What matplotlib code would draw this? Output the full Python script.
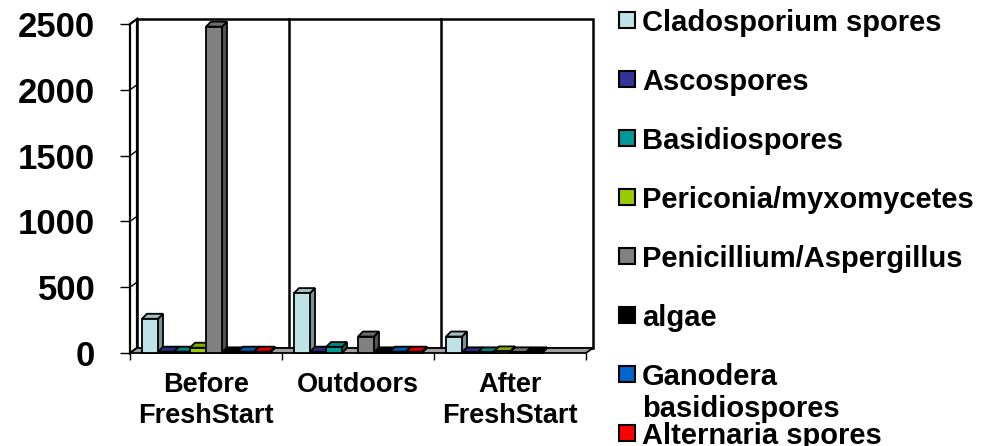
import numpy as np
import matplotlib.pyplot as plt
from matplotlib.patches import Polygon, Rectangle
import matplotlib.colors as mcolors

plt.rcParams['font.family'] = ['Liberation Sans', 'DejaVu Sans']
plt.rcParams['font.weight'] = 'bold'

# data
categories = ['Before\nFreshStart', 'Outdoors', 'After\nFreshStart']
series = ['Cladosporium spores', 'Ascospores', 'Basidiospores', 'Periconia/myxomycetes',
          'Penicillium/Aspergillus', 'algae', 'Ganodera\nbasidiospores', 'Alternaria spores']
colors = ['#BFE2E6', '#333399', '#009999', '#99CC00', '#808080', '#000000', '#0066CC', '#FF0000']

cladosporium = [260, 455, 125]
ascospores = [10, 10, 5]
basidiospores = [10, 45, 5]
periconia = [40, 0, 12]
penicillium = [2480, 125, 5]
algae = [5, 5, 5]
ganodera = [10, 10, 0]
alternaria = [10, 10, 0]
values = [cladosporium, ascospores, basidiospores, periconia,
          penicillium, algae, ganodera, alternaria]

yticks = [0, 500, 1000, 1500, 2000, 2500]

W, H = 989, 446
fig = plt.figure(figsize=(W / 100, H / 100), dpi=100)
ax = fig.add_axes([130 / W, (H - 353) / H, 456 / W, 329 / H])
ax.set_xlim(0, 3)
ax.set_ylim(0, 2500)
for s in ax.spines.values():
    s.set_visible(False)

# pixel -> data helpers for the fake 3d depth
ux = 3 / 456
uy = 2500 / 329
wdx, wdy = 7 * ux, 5 * uy      # wall / floor depth
bdx, bdy = 5 * ux, 5 * uy      # bar depth
ytop = 334 * uy

# back wall, side wall, floor
ax.add_patch(Rectangle((wdx, wdy), 3, ytop - wdy, facecolor='white', edgecolor='black',
                       lw=1.8, zorder=0.5, clip_on=False))
for xg in [1, 2]:
    ax.plot([xg + wdx, xg + wdx], [wdy, ytop], color='black', lw=1.8, zorder=0.6, clip_on=False)
ax.add_patch(Polygon([(0, 0), (0, ytop - wdy), (wdx, ytop), (wdx, wdy)], closed=True,
                     facecolor='white', edgecolor='black', lw=1.6, zorder=0.7, clip_on=False))
for v in yticks[1:]:
    ax.plot([0, wdx], [v, v + wdy], color='black', lw=1, zorder=0.8, clip_on=False)
ax.add_patch(Polygon([(0, 0), (3, 0), (3 + wdx, wdy), (wdx, wdy)], closed=True,
                     facecolor='#A0A0A0', edgecolor='black', lw=1.3, zorder=1, clip_on=False))

# bars
n = len(series)
w = 16 / 152
gap = 1 - n * w
z = 2
for i in range(len(categories)):
    for j in range(n):
        v = values[j][i]
        if v <= 0:
            continue
        c = np.array(mcolors.to_rgb(colors[j]))
        x0 = i + gap / 2 + j * w
        side = [(x0 + w, 0), (x0 + w + bdx, bdy), (x0 + w + bdx, v + bdy), (x0 + w, v)]
        top = [(x0, v), (x0 + w, v), (x0 + w + bdx, v + bdy), (x0 + bdx, v + bdy)]
        ax.add_patch(Polygon(side, closed=True, facecolor=c * 0.65, edgecolor='black',
                             lw=1.3, zorder=z, clip_on=False))
        ax.add_patch(Polygon(top, closed=True, facecolor=c * 0.85, edgecolor='black',
                             lw=1.3, zorder=z, clip_on=False))
        ax.bar(x0, v, width=w, align='edge', color=colors[j], edgecolor='black',
               lw=1.3, zorder=z + 0.5, clip_on=False)
        z += 1

# axes ticks
ax.set_yticks(yticks)
ax.set_yticklabels([str(t) for t in yticks])
ax.tick_params(axis='y', length=7, width=1, pad=18, labelsize=25)
ax.set_xticks([0, 1, 2, 3])
ax.set_xticklabels([])
ax.tick_params(axis='x', which='major', length=5, width=1)
ax.set_xticks([0.5, 1.5, 2.5], minor=True)
ax.set_xticklabels(categories, minor=True, fontsize=19.5, linespacing=1.25)
ax.tick_params(axis='x', which='minor', length=0, pad=14)

# legend drawn by hand to keep the original spacing
for k, name in enumerate(series):
    yc = 20 + 59 * k
    fig.patches.append(Rectangle((619 / W, 1 - (yc + 8) / H), 16 / W, 16 / H,
                                 transform=fig.transFigure, facecolor=colors[k],
                                 edgecolor='black', lw=1.5))
    for m, line in enumerate(name.split('\n')):
        fig.text(642 / W, 1 - (yc + 11 + 32 * m) / H, line, fontsize=21,
                 fontweight='bold', va='baseline', ha='left')

fig.savefig('out.png', dpi=100)
